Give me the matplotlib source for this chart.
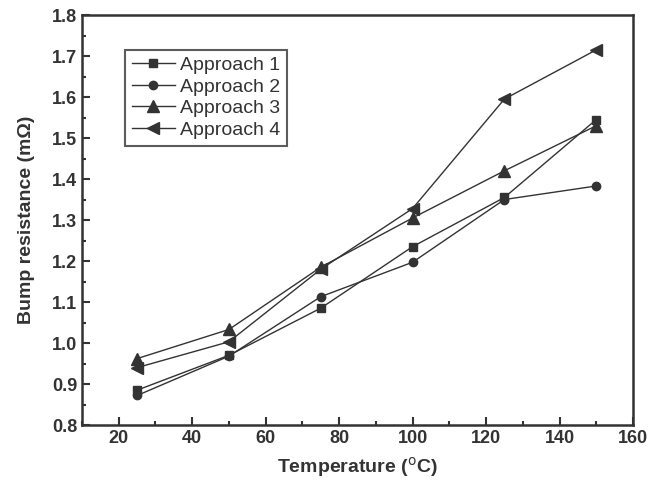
import numpy as np
import matplotlib.pyplot as plt
from matplotlib.ticker import MultipleLocator

plt.rcParams['font.family'] = ['Liberation Sans', 'DejaVu Sans']

temp = [25, 50, 75, 100, 125, 150]
approach1 = [0.885, 0.970, 1.085, 1.235, 1.355, 1.545]
approach2 = [0.872, 0.968, 1.113, 1.197, 1.350, 1.383]
approach3 = [0.962, 1.033, 1.185, 1.305, 1.420, 1.530]
approach4 = [0.940, 1.003, 1.180, 1.328, 1.595, 1.715]

ink = '#333333'

fig = plt.figure(figsize=(6.52, 4.91), dpi=100)
ax = fig.add_axes([0.1258, 0.1344, 0.845, 0.835])

ax.plot(temp, approach1, color=ink, lw=1, marker='s', ms=6, label='Approach 1')
ax.plot(temp, approach2, color=ink, lw=1, marker='o', ms=6, label='Approach 2')
ax.plot(temp, approach3, color=ink, lw=1, marker='^', ms=8, label='Approach 3')
ax.plot(temp, approach4, color=ink, lw=1, marker='<', ms=8, label='Approach 4')

ax.set_xlim(10, 160)
ax.set_ylim(0.8, 1.8)
ax.xaxis.set_major_locator(MultipleLocator(20))
ax.xaxis.set_minor_locator(MultipleLocator(10))
ax.yaxis.set_major_locator(MultipleLocator(0.1))
ax.yaxis.set_minor_locator(MultipleLocator(0.05))
ax.yaxis.set_major_formatter(plt.FuncFormatter(lambda v, p: f'{v:.1f}'))

ax.tick_params(which='both', direction='in', color=ink, width=1.5)
ax.tick_params(which='major', length=6, labelsize=13, labelcolor=ink)
ax.tick_params(which='minor', length=3)
for lab in ax.get_xticklabels() + ax.get_yticklabels():
    lab.set_fontweight('bold')
for s in ax.spines.values():
    s.set_color(ink)
    s.set_linewidth(1.8)

ax.set_xlabel('Temperature ($^{\\rm o}$C)', fontsize=14, fontweight='bold', color=ink,
              labelpad=6)
ax.set_ylabel('Bump resistance (m\u03a9)', fontsize=14, fontweight='bold', color=ink,
              labelpad=12)

leg = ax.legend(loc='upper left', bbox_to_anchor=(0.078, 0.915), fontsize=14,
                frameon=True, fancybox=False, edgecolor=ink, handlelength=2.2,
                borderpad=0.35, labelspacing=0.2, handletextpad=0.3,
                borderaxespad=0)
leg.get_frame().set_linewidth(1.5)
for t in leg.get_texts():
    t.set_color(ink)

fig.savefig('out.png', dpi=100)
